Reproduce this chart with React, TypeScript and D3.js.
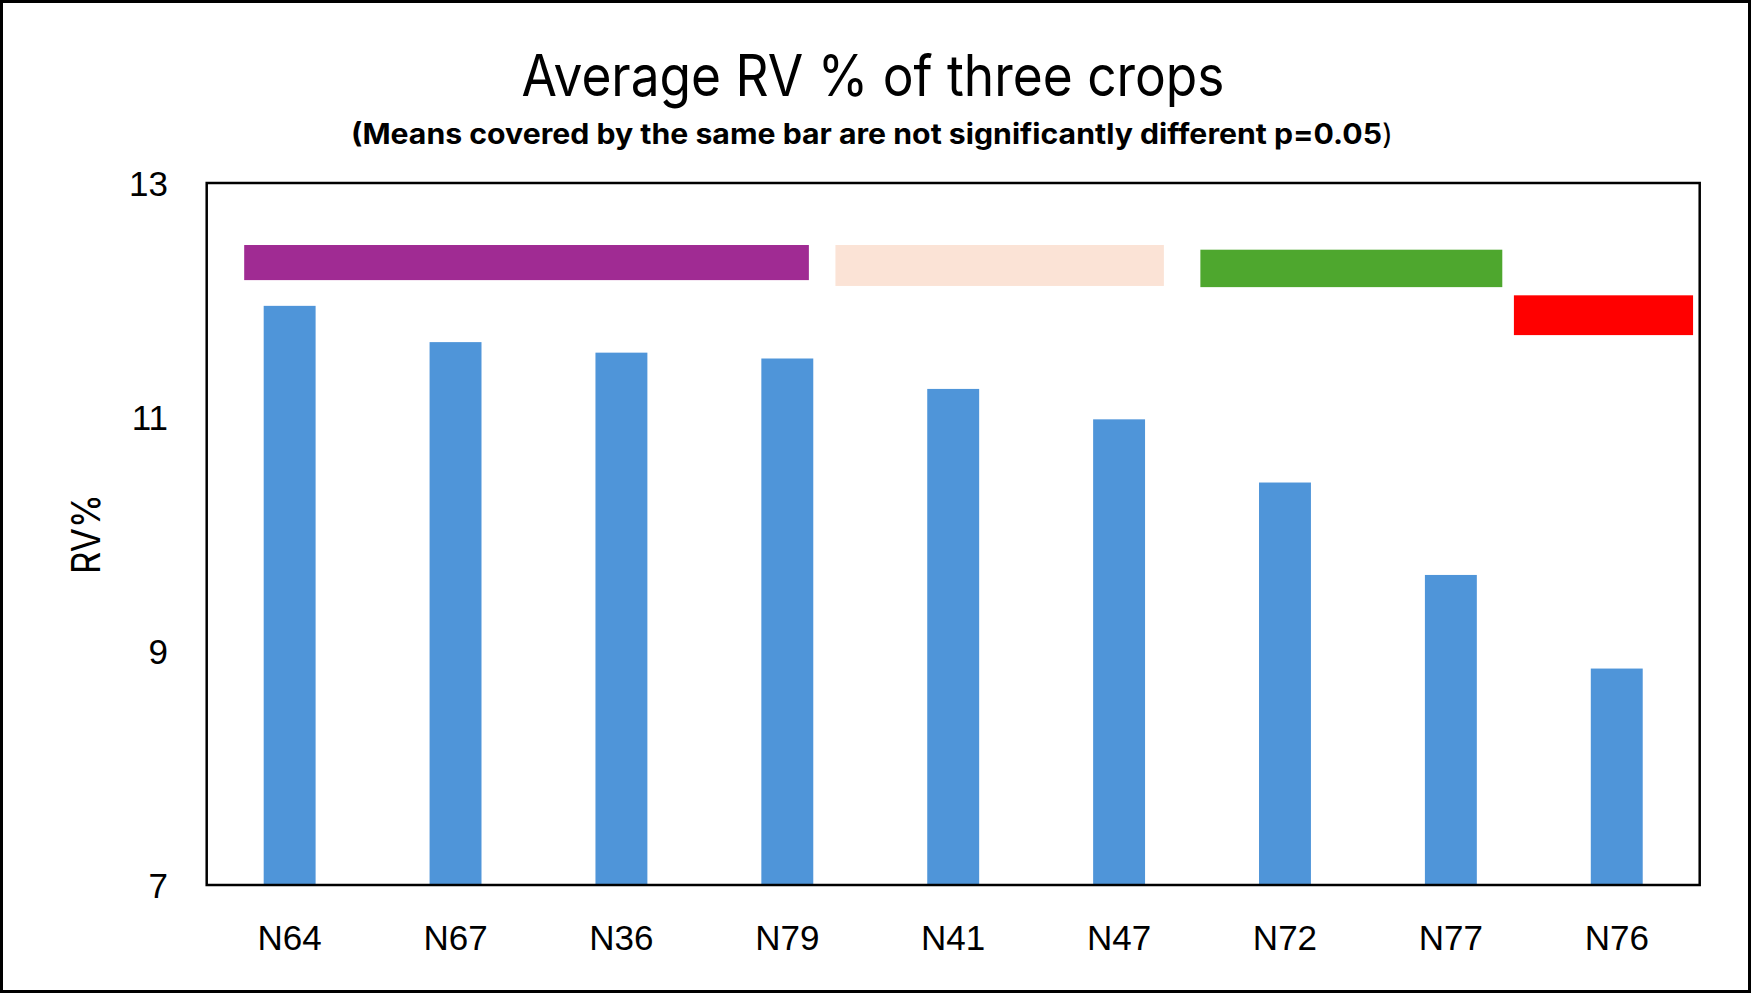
import * as d3 from "d3";

const categories = ["N64", "N67", "N36", "N79", "N41", "N47", "N72", "N77", "N76"];
const rvValues = [11.95, 11.64, 11.55, 11.5, 11.24, 10.98, 10.44, 9.65, 8.85];
const yTicks = [7, 9, 11, 13];

// grouping bars (Excel shapes), in band units along x and RV% along y
const groupNames = ["a", "b", "c", "d"];
const groupColors = ["#A02B93", "#FBE3D6", "#4EA72E", "#FF0000"];
const groupFrom = [0.226, 3.79, 5.99, 7.88];
const groupTo = [3.63, 5.77, 7.81, 8.96];
const groupTop = [12.47, 12.47, 12.43, 12.04];
const groupBottom = [12.17, 12.12, 12.11, 11.7];

const width = 1752;
const height = 993;
const plot = { left: 206.7, right: 1699.7, top: 183, bottom: 885 };

export default function App() {
  const x = d3
    .scaleBand(categories, [plot.left, plot.right])
    .paddingInner(0.687)
    .paddingOuter(0.687 / 2);
  const y = d3.scaleLinear([7, 13], [plot.bottom, plot.top]);
  const bandX = (u: number) => plot.left + u * x.step();

  return (
    <svg
      width={width}
      height={height}
      style={{ position: "absolute", left: 0, top: 0, display: "block", background: "#fff" }}
    >
      <rect x={1.5} y={1.5} width={width - 4} height={height - 3} fill="#fff" stroke="#000" strokeWidth={3} />

      <text
        x={873}
        y={96}
        textAnchor="middle"
        fontFamily="Inter"
        fontSize={57}
        textLength={703}
        lengthAdjust="spacingAndGlyphs"
      >
        Average RV % of three crops
      </text>
      <text
        x={872}
        y={144}
        textAnchor="middle"
        fontFamily="Inter"
        fontSize={28}
        fontWeight={700}
        textLength={1042}
        lengthAdjust="spacingAndGlyphs"
      >
        (Means covered by the same bar are not significantly different p=0.05<tspan fontWeight={400}>)</tspan>
      </text>

      <g fill="#4F95D9">
        {categories.map((c, i) => (
          <rect key={c} x={x(c)} y={y(rvValues[i])} width={x.bandwidth()} height={y(7) - y(rvValues[i])} />
        ))}
      </g>

      <g>
        {groupNames.map((g, i) => (
          <rect
            key={g}
            x={bandX(groupFrom[i])}
            y={y(groupTop[i])}
            width={bandX(groupTo[i]) - bandX(groupFrom[i])}
            height={y(groupBottom[i]) - y(groupTop[i])}
            fill={groupColors[i]}
          />
        ))}
      </g>

      <rect
        x={plot.left}
        y={plot.top}
        width={plot.right - plot.left}
        height={plot.bottom - plot.top}
        fill="none"
        stroke="#000"
        strokeWidth={2.5}
      />

      <g fontFamily="Liberation Sans, Arial" fontSize={35} fill="#000">
        {yTicks.map((t) => (
          <text key={t} x={168} y={y(t) + 12.5} textAnchor="end">
            {t}
          </text>
        ))}
        {categories.map((c) => (
          <text key={c} x={x(c)! + x.bandwidth() / 2} y={950} textAnchor="middle">
            {c}
          </text>
        ))}
      </g>

      <text
        transform={`translate(100,${(plot.top + plot.bottom) / 2}) rotate(-90)`}
        textAnchor="middle"
        fontFamily="Inter"
        fontSize={40}
        textLength={80}
        lengthAdjust="spacingAndGlyphs"
      >
        RV%
      </text>
    </svg>
  );
}
